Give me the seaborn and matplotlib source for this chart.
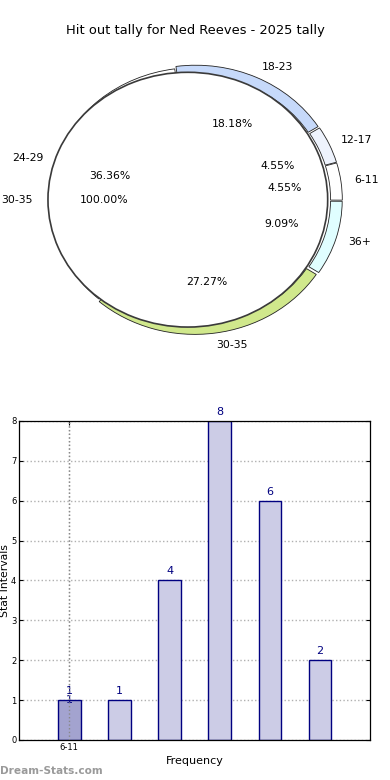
import matplotlib
matplotlib.use("Agg")
import matplotlib.pyplot as plt
import seaborn as sns
import pandas as pd

# Data
CATEGORIES = ['6-11', '12-17', '18-23', '24-29', '30-35', '36+']
COUNTS = [1, 1, 4, 8, 6, 2]
HIGHLIGHT = '6-11'
INNER_LABELS = ['30-35']
INNER_VALUES = [6]

# pie wedges follow string order of the categories
PIE_COLORS = {
    '12-17': '#eef3fd',
    '18-23': '#c6d9fa',
    '24-29': '#ffffff',
    '30-35': '#d0e88c',
    '36+': '#e0feff',
    '6-11': '#ffffff',
}

fig = plt.figure(figsize=(3.9, 7.8), dpi=100)
fig.text(0.5, 0.961, "Hit out tally for Ned Reeves - 2025 tally", ha='center', va='center', fontsize=9.4)

# ---- pie / ring ----
ax1 = fig.add_axes([0.123, 0.573, 0.751, 0.342])
pie_labels = sorted(CATEGORIES)
pie_values = [COUNTS[CATEGORIES.index(c)] for c in pie_labels]
ax1.pie(
    pie_values,
    labels=pie_labels,
    colors=[PIE_COLORS[c] for c in pie_labels],
    autopct='%.2f%%',
    startangle=16,
    explode=[0.0 if c == '24-29' else 0.02 for c in pie_labels],
    radius=0.99,
    labeldistance=1.09,
    pctdistance=0.61,
    wedgeprops=dict(width=0.08, edgecolor='#222222', linewidth=0.6),
    textprops=dict(fontsize=7.8),
)
ax1.pie(
    INNER_VALUES,
    labels=INNER_LABELS,
    colors=['white'],
    autopct='%.2f%%',
    startangle=0,
    center=(-0.045, 0),
    radius=0.955,
    labeldistance=1.11,
    pctdistance=0.6,
    wedgeprops=dict(edgecolor='#3a3a3a', linewidth=1.2),
    textprops=dict(fontsize=7.8),
)
ax1.set_aspect('auto')
ax1.set_xlim(-1, 1)
ax1.set_ylim(-1, 1)
ax1.axis('off')

# ---- bars ----
ax2 = fig.add_axes([0.049, 0.0513, 0.9, 0.409])
df = pd.DataFrame({'Interval': CATEGORIES, 'Count': COUNTS})
palette = {c: ('#a3a3cf' if c == HIGHLIGHT else '#ccccE6') for c in CATEGORIES}
sns.barplot(data=df, x='Interval', y='Count', hue='Interval', palette=palette,
            order=CATEGORIES, width=0.45, edgecolor='#000080', linewidth=1.0,
            saturation=1, legend=False, ax=ax2, zorder=2)

for i, v in enumerate(COUNTS):
    ax2.annotate(str(v), (i, v), textcoords='offset points', xytext=(0, 3),
                 ha='center', va='bottom', color='#000080', fontsize=8)
hi = CATEGORIES.index(HIGHLIGHT)
ax2.annotate(str(COUNTS[hi]), (hi, COUNTS[hi]), ha='center', va='center',
             color='#000080', fontsize=8)

ax2.set_xlim(-1, 6)
ax2.set_ylim(0, 8)
ax2.set_xticks([hi])
ax2.set_xticklabels([HIGHLIGHT], fontsize=6)
ax2.set_yticks(range(0, 9))
ax2.set_yticklabels([str(t) for t in range(0, 9)], fontsize=6)
ax2.tick_params(direction='in', length=3, top=True, right=True, pad=2)
ax2.grid(True, linestyle=':', color='#b0b0b0', linewidth=1.0, zorder=0)
ax2.set_axisbelow(True)
ax2.axvline(hi, linestyle=':', color='#888888', linewidth=1.0, zorder=3)
for s in ax2.spines.values():
    s.set_linewidth(0.9)
ax2.set_xlabel('Frequency', fontsize=8, labelpad=3)
ax2.set_ylabel('Stat Intervals', fontsize=7.8, labelpad=1)

fig.text(0.0, 0.012, 'Dream-Stats.com', color='#9a9a9a', fontsize=7.6, fontweight='bold',
         ha='left', va='center')

fig.savefig('out.png', dpi=100)
